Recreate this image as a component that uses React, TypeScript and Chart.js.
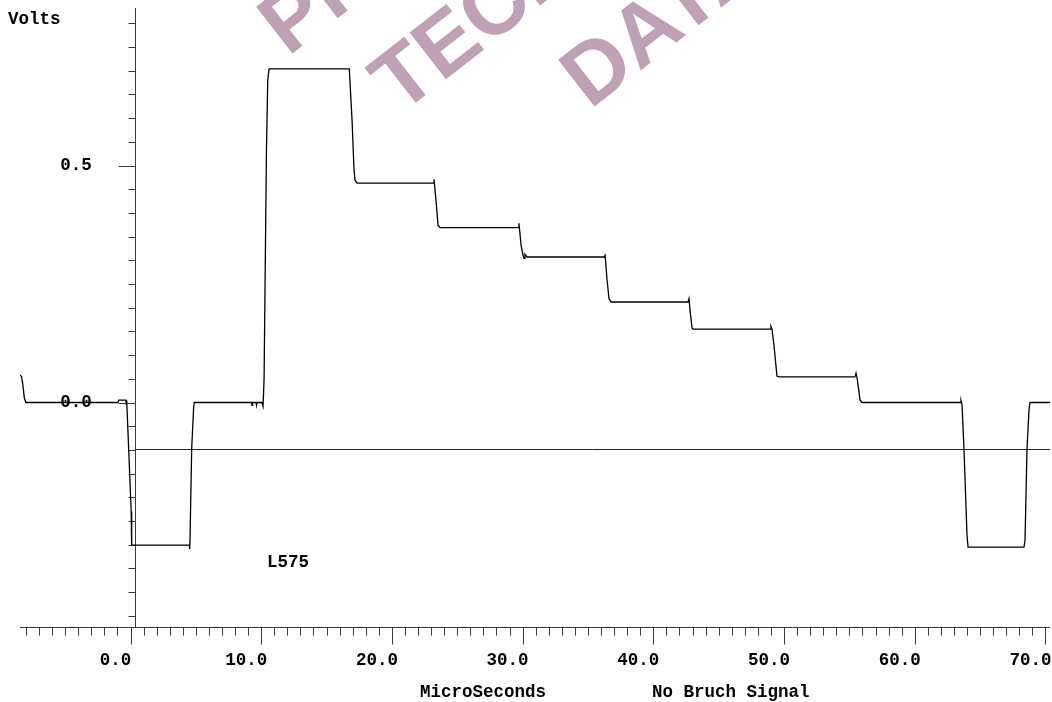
import React, { useEffect, useRef } from 'react';
import { Chart, registerables } from 'chart.js';

Chart.register(...registerables);

// ---- data ----
const timeUs = [
  -8.45, -8.34, -8.23, -8.12, -8.0, -0.96, -0.9, -0.35, -0.33, -0.3, -0.27, -0.14, 0.05, 0.09, 0.17,
  4.5, 4.53, 4.56, 4.68, 4.83, 4.88, 9.26, 9.3, 9.34, 9.6, 9.64, 9.68, 10.05, 10.14, 10.22, 10.4, 10.5, 10.6,
  16.74, 16.95, 17.1, 17.18, 17.33, 23.15, 23.22, 23.37, 23.53, 23.68, 29.65, 29.72, 29.88, 30.03, 30.11, 30.18,
  30.34, 36.23, 36.31, 36.46, 36.61, 36.77, 42.66, 42.73, 42.81, 42.96, 43.04, 48.93, 49.0, 49.08, 49.23, 49.46,
  49.62, 55.43, 55.51, 55.59, 55.82, 55.97, 63.47, 63.54, 63.62, 63.77, 64.0, 64.08, 68.36, 68.44, 68.59, 68.74,
  68.82, 70.35,
];
const volts = [
  0.058, 0.055, 0.036, 0.009, 0.0, 0.0, 0.005, 0.005, -0.004, 0.004, 0.0, -0.098, -0.23, -0.301, -0.301,
  -0.301, -0.309, -0.28, -0.098, -0.01, 0.0, 0.0, -0.006, 0.0, 0.0, -0.006, 0.0, 0.0, -0.008, 0.05, 0.53, 0.68, 0.704,
  0.704, 0.596, 0.491, 0.469, 0.463, 0.463, 0.471, 0.427, 0.374, 0.369, 0.369, 0.378, 0.332, 0.311, 0.304, 0.313,
  0.307, 0.307, 0.311, 0.259, 0.219, 0.212, 0.212, 0.219, 0.195, 0.157, 0.155, 0.155, 0.161, 0.155, 0.121, 0.056,
  0.054, 0.054, 0.062, 0.052, 0.005, 0.0, 0.0, 0.004, -0.005, -0.098, -0.28, -0.305, -0.305, -0.29, -0.098, -0.016,
  0.0, 0.0,
];
const triggerLevel = -0.0992;

const xMajorTicks = [0, 10, 20, 30, 40, 50, 60, 70];
const xTickLabels = ['0.0', '10.0', '20.0', '30.0', '40.0', '50.0', '60.0', '70.0'];
const yMajorTicks = [0.5, 0.0];
const yTickLabels = ['0.5', '0.0'];
const xRange = [-8.455, 70.35];
const yRange = [-0.4736, 0.8323];
const yAxisAtUs = 0.345;
const xMinorStep = 1;
const yMinorStep = 0.05;

const yTitle = 'Volts';
const xTitle = 'MicroSeconds';
const subTitle = 'No Bruch Signal';
const traceLabel = 'L575';
const watermarkWords = ['PRELIMINARY', 'TECHNICAL', 'DATA'];

const MONO = 'bold 17.5px "Liberation Mono", "Courier New", monospace';
const AXIS_COLOR = '#3c3c3c';

const scopePlugin = {
  id: 'scopeAxes',
  beforeDatasetsDraw(chart: any) {
    const ctx = chart.ctx as CanvasRenderingContext2D;
    const { left, right, top, bottom } = chart.chartArea;
    const xs = chart.scales.x;
    const ys = chart.scales.y;

    // watermark
    const wmPos = [
      [288, 57],
      [400, 115],
      [590, 110],
    ];
    ctx.save();
    ctx.fillStyle = '#bea1b5';
    ctx.font = 'bold 86px "Liberation Sans", Arial, sans-serif';
    ctx.textAlign = 'left';
    ctx.textBaseline = 'alphabetic';
    watermarkWords.forEach((w, i) => {
      ctx.save();
      ctx.translate(wmPos[i][0], wmPos[i][1]);
      ctx.rotate((-38 * Math.PI) / 180);
      ctx.fillText(w, 0, 0);
      ctx.restore();
    });
    ctx.restore();

    ctx.save();
    ctx.strokeStyle = AXIS_COLOR;
    ctx.lineWidth = 1;
    const ax = Math.round(xs.getPixelForValue(yAxisAtUs)) + 0.5;
    const by = Math.round(bottom) + 0.5;

    ctx.beginPath();
    // x axis line
    ctx.moveTo(left, by);
    ctx.lineTo(right, by);
    // y axis line
    ctx.moveTo(ax, top);
    ctx.lineTo(ax, by);

    // x ticks
    for (let v = Math.ceil(xRange[0] / xMinorStep) * xMinorStep; v <= xRange[1]; v += xMinorStep) {
      const px = Math.round(xs.getPixelForValue(v)) + 0.5;
      const major = Math.abs(v % 10) < 1e-6;
      ctx.moveTo(px, by);
      ctx.lineTo(px, by + (major ? 17 : 8));
    }
    // y ticks
    const kMin = Math.ceil(yRange[0] / yMinorStep - 1e-6);
    const kMax = Math.floor(yRange[1] / yMinorStep + 1e-6);
    for (let k = kMin; k <= kMax; k++) {
      const v = k * yMinorStep;
      const py = Math.round(ys.getPixelForValue(v)) + 0.5;
      const major = k % 10 === 0;
      ctx.moveTo(ax, py);
      ctx.lineTo(ax - (major ? 17 : 7), py);
    }
    ctx.stroke();

    // labels
    ctx.fillStyle = '#000';
    ctx.font = MONO;
    ctx.textBaseline = 'alphabetic';
    ctx.textAlign = 'center';
    xMajorTicks.forEach((v, i) => {
      const px = xs.getPixelForValue(v);
      ctx.fillText(xTickLabels[i], px - 15, by + 37.5);
    });
    yMajorTicks.forEach((v, i) => {
      const py = ys.getPixelForValue(v);
      ctx.fillText(yTickLabels[i], ax - 59.5, py + 4.5);
    });
    ctx.textAlign = 'left';
    ctx.fillText(yTitle, 8, 23.5);
    ctx.fillText(traceLabel, xs.getPixelForValue(10.45), ys.getPixelForValue(-0.346));
    ctx.fillText(xTitle, 420, 696.5);
    ctx.fillText(subTitle, 652, 696.5);
    ctx.restore();
  },
};

export default function App() {
  const canvasRef = useRef<HTMLCanvasElement | null>(null);

  useEffect(() => {
    if (!canvasRef.current) return;
    const trace = timeUs.map((t, i) => ({ x: t, y: volts[i] }));
    const trigger = [
      { x: yAxisAtUs, y: triggerLevel },
      { x: xRange[1], y: triggerLevel },
    ];
    const chart = new Chart(canvasRef.current, {
      type: 'line',
      data: {
        datasets: [
          {
            label: 'Trigger',
            data: trigger,
            borderColor: '#222',
            borderWidth: 1,
            pointRadius: 0,
            tension: 0,
          },
          {
            label: traceLabel,
            data: trace,
            borderColor: '#000',
            borderWidth: 1.3,
            pointRadius: 0,
            tension: 0,
          },
        ],
      },
      options: {
        responsive: false,
        animation: false,
        layout: { padding: { left: 20, right: 2, top: 8, bottom: 75 } },
        plugins: {
          legend: { display: false },
          tooltip: { enabled: false },
          title: { display: false },
        },
        scales: {
          x: { type: 'linear', display: false, min: xRange[0], max: xRange[1] },
          y: { type: 'linear', display: false, min: yRange[0], max: yRange[1] },
        },
      },
      plugins: [scopePlugin],
    });
    return () => chart.destroy();
  }, []);

  return (
    <div style={{ position: 'fixed', left: 0, top: 0, width: 1052, height: 702, background: '#fff' }}>
      <canvas ref={canvasRef} width={1052} height={702} />
    </div>
  );
}
